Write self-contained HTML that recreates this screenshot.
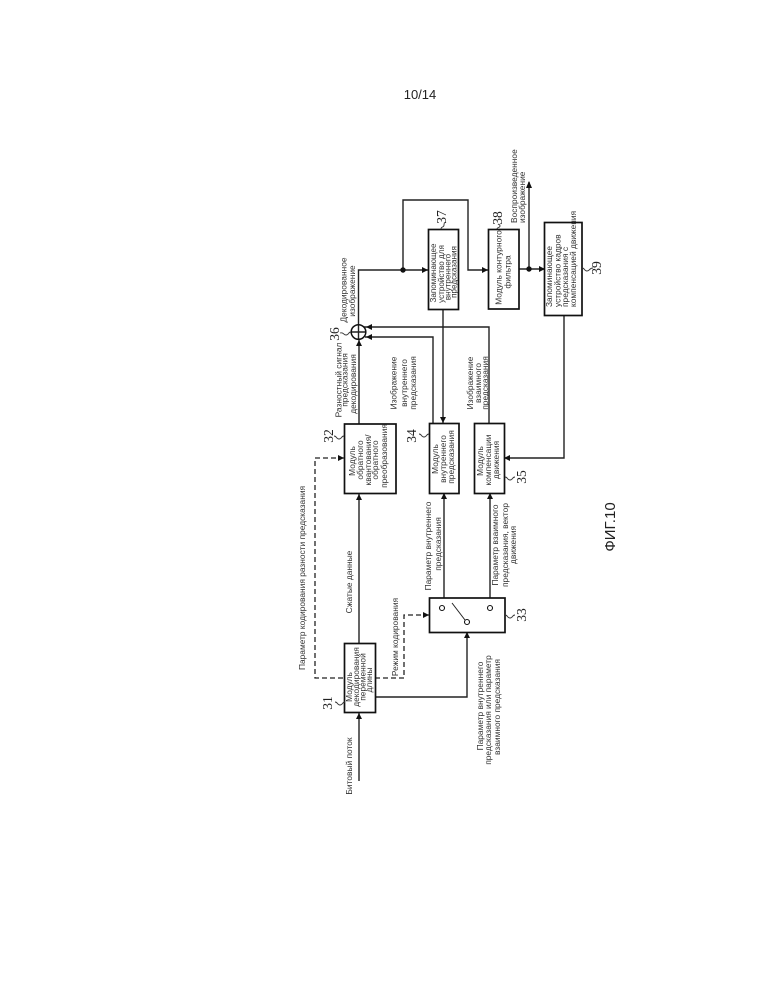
<!DOCTYPE html>
<html>
<head>
<meta charset="utf-8">
<style>
html,body{margin:0;padding:0;background:#fff}
svg{display:block}
text{font-family:"Liberation Sans",sans-serif;font-size:8.4px;fill:#333}
.m{text-anchor:middle}
.n{font-family:"Liberation Serif",serif;font-size:13.5px;fill:#222;text-anchor:middle}
.l{fill:none;stroke:#222;stroke-width:1.4}
.b{fill:#fff;stroke:#111;stroke-width:1.7}
.d{fill:none;stroke:#222;stroke-width:1.3;stroke-dasharray:5 3}
.t{fill:none;stroke:#333;stroke-width:.9}
.a{fill:#111;stroke:none}
</style>
</head>
<body>
<svg width="772" height="999" viewBox="0 0 772 999" xmlns="http://www.w3.org/2000/svg">
<rect width="772" height="999" fill="#fff"/>
<text x="420" y="99" class="m" style="font-size:13px;fill:#222">10/14</text>

<!-- connectors -->
<path class="l" d="M359 781V713"/>
<path class="l" d="M359 643V494"/>
<path class="l" d="M359 424V340"/>
<path class="l" d="M358.500 325V270H428"/>
<path class="l" d="M403 270V200H468V270H488"/>
<path class="l" d="M519 269H545"/>
<path class="l" d="M529 269V182"/>
<path class="l" d="M443 310V423"/>
<path class="l" d="M433 423V337H365"/>
<path class="l" d="M489 423V327H364"/>
<path class="l" d="M564 315V458H504"/>
<path class="l" d="M444 598V493"/>
<path class="l" d="M490 598V493"/>
<path class="l" d="M375 697H467V632"/>
<path class="d" d="M344 458H315V678H345"/>
<path class="d" d="M375 678H404V615H429"/>

<!-- boxes -->
<rect class="b" x="428.500" y="229.500" width="30" height="80"/>
<rect class="b" x="488.500" y="229.500" width="30.500" height="79.500"/>
<rect class="b" x="544.500" y="222.500" width="37.500" height="93"/>
<rect class="b" x="344.500" y="424" width="51.500" height="69.500"/>
<rect class="b" x="429.500" y="423.500" width="29.500" height="70"/>
<rect class="b" x="474.500" y="423.500" width="30" height="70"/>
<rect class="b" x="344.500" y="643.500" width="31" height="69"/>
<rect class="b" x="429.500" y="598" width="75.500" height="34.500"/>

<!-- adder -->
<circle cx="358.500" cy="332" r="7.300" fill="#fff" stroke="#111" stroke-width="1.500"/>
<path class="l" d="M352 332H365M358.500 325.500V338.500"/>

<!-- dots -->
<circle cx="403" cy="270" r="2.700" class="a"/>
<circle cx="529" cy="269" r="2.700" class="a"/>

<!-- arrowheads -->
<path class="a" d="M428 270l-6-3v6z"/>
<path class="a" d="M488 270l-6-3v6z"/>
<path class="a" d="M545 269l-6-3v6z"/>
<path class="a" d="M529 181l-3 7h6z"/>
<path class="a" d="M366 327l6-3v6z"/>
<path class="a" d="M366 337l6-3v6z"/>
<path class="a" d="M359 340l-3 6h6z"/>
<path class="a" d="M443 423l-3-6h6z"/>
<path class="a" d="M359 494l-3 6h6z"/>
<path class="a" d="M444 493l-3 6h6z"/>
<path class="a" d="M490 493l-3 6h6z"/>
<path class="a" d="M504 458l6-3v6z"/>
<path class="a" d="M344 458l-6-3v6z"/>
<path class="a" d="M429 615l-6-3v6z"/>
<path class="a" d="M467 632l-3 6h6z"/>
<path class="a" d="M359 713l-3 6h6z"/>

<!-- switch -->
<circle cx="442" cy="608" r="2.500" fill="#fff" stroke="#111" stroke-width="1.100"/>
<circle cx="490" cy="608" r="2.500" fill="#fff" stroke="#111" stroke-width="1.100"/>
<circle cx="467" cy="622" r="2.500" fill="#fff" stroke="#111" stroke-width="1.100"/>
<path class="l" d="M452 603L465 620" style="stroke-width:1"/>

<!-- squiggles -->
<path class="t" d="M441 229c0-3 3-1 3-4s1-2 2-3"/>
<path class="t" d="M497 229c0-2 3-1 3-3s-1-1-2-2"/>
<path class="t" d="M582 268c3 0 2 3 5 3s2-3 6-3"/>
<path class="t" d="M351 332c-3 0-2 3-5 3s-2-3-6-2"/>
<path class="t" d="M344 436c-3 0-2 3-5 3s-2-3-5-3"/>
<path class="t" d="M429 434c-3 0-2 3-5 3s-2-3-5-3"/>
<path class="t" d="M505 477c3 0 2 3 5 3s2-3 5-3"/>
<path class="t" d="M505 615c3 0 2 3 5 3s2-3 5-3"/>
<path class="t" d="M345 702c-3 0-2 3-5 3s-2-3-5-3"/>

<!-- numbers -->
<text class="n" transform="translate(339,334) rotate(-90)">36</text>
<text class="n" transform="translate(446,217) rotate(-90)">37</text>
<text class="n" transform="translate(502,218) rotate(-90)">38</text>
<text class="n" transform="translate(601,268) rotate(-90)">39</text>
<text class="n" transform="translate(333,436) rotate(-90)">32</text>
<text class="n" transform="translate(416,436) rotate(-90)">34</text>
<text class="n" transform="translate(526,477) rotate(-90)">35</text>
<text class="n" transform="translate(526,615) rotate(-90)">33</text>
<text class="n" transform="translate(332,703) rotate(-90)">31</text>

<!-- labels -->
<text class="m" transform="translate(346.700,290) rotate(-90)">Декодированное</text>
<text class="m" transform="translate(355,291) rotate(-90)">изображение</text>

<text class="m" transform="translate(436,273) rotate(-90)" style="font-size:8.100px">Запоминающее</text>
<text class="m" transform="translate(444,274) rotate(-90)" style="font-size:8.100px">устройство для</text>
<text class="m" transform="translate(450.500,277) rotate(-90)" style="font-size:8.100px">внутреннего</text>
<text class="m" transform="translate(456.500,272) rotate(-90)" style="font-size:8.100px">предсказания</text>

<text class="m" transform="translate(501.700,267.500) rotate(-90)">Модуль контурного</text>
<text class="m" transform="translate(510.600,272) rotate(-90)">фильтра</text>

<text transform="translate(517,223) rotate(-90)">Воспроизведенное</text>
<text transform="translate(525,223) rotate(-90)">изображение</text>

<text transform="translate(552,307) rotate(-90)">Запоминающее</text>
<text transform="translate(560.500,307) rotate(-90)">устройство кадров</text>
<text transform="translate(568,307) rotate(-90)">предсказания с</text>
<text transform="translate(576,307) rotate(-90)">компенсацией движения</text>

<text class="m" transform="translate(341.700,380) rotate(-90)">Разностный сигнал</text>
<text class="m" transform="translate(347.700,380) rotate(-90)">предсказания</text>
<text class="m" transform="translate(356,384) rotate(-90)">декодирования</text>

<text class="m" transform="translate(396.700,383) rotate(-90)">Изображение</text>
<text class="m" transform="translate(407,383) rotate(-90)">внутреннего</text>
<text class="m" transform="translate(416,383) rotate(-90)">предсказания</text>

<text class="m" transform="translate(473,383) rotate(-90)">Изображение</text>
<text class="m" transform="translate(481,383) rotate(-90)">взаимного</text>
<text class="m" transform="translate(488,383) rotate(-90)">предсказания</text>

<text class="m" transform="translate(355,461) rotate(-90)">Модуль</text>
<text class="m" transform="translate(363,460) rotate(-90)">обратного</text>
<text class="m" transform="translate(371,460) rotate(-90)">квантования/</text>
<text class="m" transform="translate(378,460) rotate(-90)">обратного</text>
<text class="m" transform="translate(387,456) rotate(-90)">преобразования</text>

<text class="m" transform="translate(438,459) rotate(-90)">Модуль</text>
<text class="m" transform="translate(446,459) rotate(-90)">внутреннего</text>
<text class="m" transform="translate(454,457) rotate(-90)">предсказания</text>

<text class="m" transform="translate(483,461) rotate(-90)">Модуль</text>
<text class="m" transform="translate(491,460) rotate(-90)">компенсации</text>
<text class="m" transform="translate(499,460) rotate(-90)">движения</text>

<text class="m" transform="translate(431,546) rotate(-90)">Параметр внутреннего</text>
<text class="m" transform="translate(441,544) rotate(-90)">предсказания</text>

<text class="m" transform="translate(498,545) rotate(-90)">Параметр взаимного</text>
<text class="m" transform="translate(508,545) rotate(-90)">предсказания, вектор</text>
<text class="m" transform="translate(516,545) rotate(-90)">движения</text>

<text class="m" transform="translate(352,582) rotate(-90)">Сжатые данные</text>
<text class="m" transform="translate(398,637) rotate(-90)">Режим кодирования</text>
<text class="m" transform="translate(305,578) rotate(-90)">Параметр кодирования разности предсказания</text>

<text class="m" transform="translate(352,687) rotate(-90)">Модуль</text>
<text class="m" transform="translate(359,677) rotate(-90)">декодирования</text>
<text class="m" transform="translate(365.500,677) rotate(-90)">переменной</text>
<text class="m" transform="translate(372,680) rotate(-90)">длины</text>

<text class="m" transform="translate(352,766) rotate(-90)">Битовый поток</text>

<text class="m" transform="translate(483,706) rotate(-90)">Параметр внутреннего</text>
<text class="m" transform="translate(491,710) rotate(-90)">предсказания или параметр</text>
<text class="m" transform="translate(500,707) rotate(-90)">взаимного предсказания</text>

<text class="m" transform="translate(615,527) rotate(-90)" style="font-size:15px;fill:#222">ФИГ.10</text>
</svg>
</body>
</html>
